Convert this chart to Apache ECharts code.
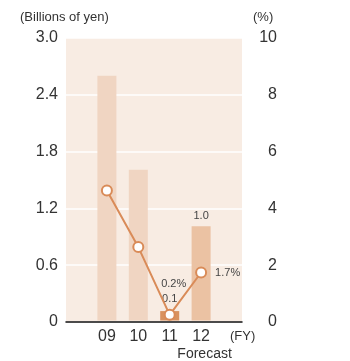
<!DOCTYPE html>
<html>
<head>
<meta charset="utf-8">
<script src="https://cdn.jsdelivr.net/npm/echarts@6/dist/echarts.min.js"></script>
<style>
  html, body { margin: 0; padding: 0; background: #ffffff; }
  #chart { width: 350px; height: 361px; }
</style>
</head>
<body>
<div id="chart"></div>
<script>
// Fiscal years shown on the category axis
const years = ['09', '10', '11', '12'];
// Amount, billions of yen (left axis)
const amounts = [2.6, 1.6, 0.1, 1.0];
// Ratio, % (right axis)
const ratios = [4.6, 2.6, 0.2, 1.7];
// Tick labels for both value axes
const leftTicks = [0, 0.6, 1.2, 1.8, 2.4, 3.0];
const rightTicks = [0, 2, 4, 6, 8, 10];

const barColors = ['#f0d5c2', '#f0d5c2', '#d9925f', '#ebc2a3'];
const lineColor = '#d98b58';
const textColor = '#333333';
const font = 'Liberation Sans, Arial, sans-serif';

const chart = echarts.init(document.getElementById('chart'), null, { renderer: 'canvas' });

const plotLeft = 66, plotRight = 242, plotTop = 38, plotBottom = 322;
const band = 31.4;
const innerWidth = band * years.length;
const innerLeft = (plotLeft + plotRight) / 2 - innerWidth / 2;

chart.setOption({
  animation: false,
  backgroundColor: '#ffffff',
  textStyle: { fontFamily: font },
  grid: [
    {
      left: plotLeft, top: plotTop, width: plotRight - plotLeft, height: plotBottom - plotTop,
      show: true, backgroundColor: '#f8ece3', borderWidth: 0
    },
    {
      left: innerLeft, top: plotTop, width: innerWidth, height: plotBottom - plotTop
    }
  ],
  xAxis: [
    {
      gridIndex: 0, type: 'value', min: 0, max: 1,
      axisLine: { show: true, lineStyle: { color: '#111111', width: 1.5 } },
      axisTick: { show: false }, axisLabel: { show: false }, splitLine: { show: false }
    },
    {
      gridIndex: 1, type: 'category', data: years, boundaryGap: true,
      axisLine: { show: false }, axisTick: { show: false },
      axisLabel: {
        color: textColor, fontSize: 16, margin: 8, interval: 0,
        formatter: function (v) { return v === '12' ? v + '\n{f|Forecast}' : v; },
        rich: { f: { fontSize: 14, color: textColor, padding: [0, 0, 0, 7], lineHeight: 19 } }
      }
    }
  ],
  yAxis: [
    {
      gridIndex: 0, type: 'value', min: 0, max: 3.0, interval: 0.6, position: 'left',
      axisLine: { show: false }, axisTick: { show: false },
      axisLabel: {
        color: textColor, fontSize: 16, margin: 8,
        formatter: function (v) {
          const t = leftTicks.find(x => Math.abs(x - v) < 1e-6);
          return t === 0 ? '0' : t.toFixed(1);
        }
      },
      splitLine: { show: true, lineStyle: { color: '#ffffff', width: 1.5 } }
    },
    {
      gridIndex: 0, type: 'value', min: 0, max: 10, interval: 2, position: 'right',
      axisLine: { show: false }, axisTick: { show: false },
      axisLabel: {
        color: textColor, fontSize: 16, margin: 35, align: 'right',
        formatter: function (v) { return String(rightTicks.find(x => Math.abs(x - v) < 1e-6)); }
      },
      splitLine: { show: false }
    },
    { gridIndex: 1, type: 'value', min: 0, max: 3.0, show: false },
    { gridIndex: 1, type: 'value', min: 0, max: 10, show: false }
  ],
  graphic: [
    { type: 'text', left: 20, top: 11, style: { text: '(Billions of yen)', font: '13px ' + font, fill: textColor } },
    { type: 'text', left: 253, top: 11, style: { text: '(%)', font: '13px ' + font, fill: textColor } },
    { type: 'text', left: 230, top: 330, style: { text: '(FY)', font: '13px ' + font, fill: textColor } }
  ],
  series: [
    {
      type: 'bar', xAxisIndex: 1, yAxisIndex: 2, barWidth: 19,
      data: amounts.map((v, i) => ({
        value: v,
        itemStyle: { color: barColors[i] },
        label: { show: i >= 2, position: 'top', distance: i === 2 ? 7 : 5, color: '#444444', fontSize: 11, formatter: function (p) { return p.value.toFixed(1); } }
      }))
    },
    {
      type: 'line', xAxisIndex: 1, yAxisIndex: 3, z: 5,
      data: ratios.map((v, i) => ({
        value: v,
        label: i === 3
          ? { show: true, position: 'right', distance: 8, color: '#444444', fontSize: 11, formatter: '{c}%' }
          : i === 2
            ? { show: true, position: 'top', offset: [4, -14], color: '#444444', fontSize: 11, formatter: '{c}%' }
            : { show: false }
      })),
      symbol: 'circle', symbolSize: 10,
      lineStyle: { color: lineColor, width: 2 },
      itemStyle: { color: '#ffffff', borderColor: lineColor, borderWidth: 2 }
    }
  ]
});
</script>
</body>
</html>
